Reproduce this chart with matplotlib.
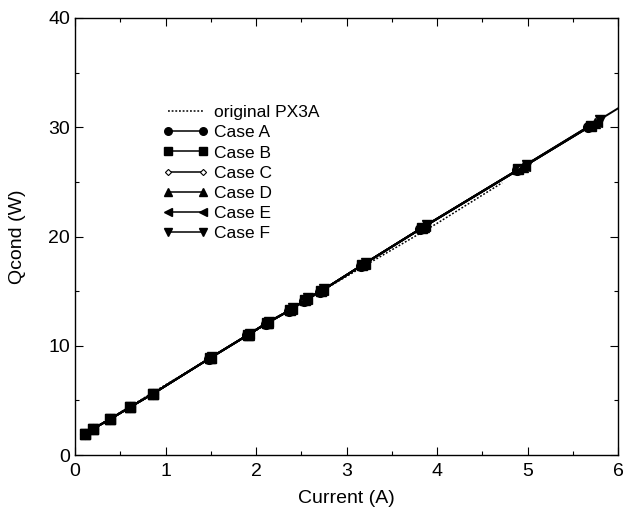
import matplotlib
matplotlib.use("Agg")
import matplotlib.pyplot as plt
from matplotlib.ticker import MultipleLocator

plt.rcParams['font.family'] = ['Liberation Sans', 'DejaVu Sans']

# Original PX3A (dotted)
orig_x = [0.10, 1.00, 2.00, 3.00, 4.00, 4.72]
orig_y = [1.90, 6.42, 11.40, 16.35, 21.20, 24.92]

# Cases (current in A, Qcond in W)
caseA_x = [0.11, 0.20, 0.39, 0.61, 0.86, 1.48, 1.90, 2.11, 2.37, 2.53, 2.71, 3.16, 3.81, 4.88, 5.67, 6.30]
caseA_y = [1.92, 2.40, 3.29, 4.39, 5.60, 8.82, 10.95, 12.03, 13.22, 14.13, 14.95, 17.32, 20.68, 26.05, 30.05, 33.25]
caseB_x = [0.11, 0.20, 0.39, 0.61, 0.86, 1.49, 1.91, 2.12, 2.38, 2.54, 2.72, 3.17, 3.83, 4.90, 5.70]
caseB_y = [1.92, 2.40, 3.29, 4.39, 5.60, 8.85, 10.98, 12.07, 13.26, 14.17, 15.00, 17.37, 20.76, 26.15, 30.15]
caseC_x = [0.11, 0.20, 0.39, 0.61, 0.86, 1.49, 1.91, 2.12, 2.38, 2.54, 2.72, 3.18, 3.84, 4.92, 5.72]
caseC_y = [1.92, 2.40, 3.29, 4.39, 5.60, 8.86, 10.99, 12.08, 13.27, 14.18, 15.01, 17.40, 20.80, 26.22, 30.22]
caseD_x = [0.11, 0.20, 0.39, 0.61, 0.86, 1.50, 1.92, 2.13, 2.39, 2.55, 2.73, 3.19, 3.86, 4.95, 5.75]
caseD_y = [1.92, 2.40, 3.29, 4.39, 5.60, 8.90, 11.02, 12.12, 13.32, 14.24, 15.06, 17.47, 20.90, 26.35, 30.38]
caseE_x = [0.11, 0.20, 0.39, 0.61, 0.86, 1.50, 1.92, 2.13, 2.40, 2.56, 2.74, 3.20, 3.87, 4.97, 5.77]
caseE_y = [1.92, 2.40, 3.29, 4.39, 5.60, 8.92, 11.05, 12.15, 13.36, 14.28, 15.10, 17.52, 20.98, 26.45, 30.50]
caseF_x = [0.11, 0.20, 0.39, 0.61, 0.86, 1.51, 1.93, 2.14, 2.41, 2.57, 2.75, 3.21, 3.89, 4.99, 5.80]
caseF_y = [1.92, 2.40, 3.29, 4.39, 5.60, 8.97, 11.10, 12.20, 13.42, 14.34, 15.16, 17.58, 21.08, 26.58, 30.70]

W, H = 625, 512
fig = plt.figure(figsize=(W / 100, H / 100), dpi=100)
ax = fig.add_axes([75 / W, 1 - 455 / H, (618 - 75) / W, (455 - 18) / H])

ax.plot(orig_x, orig_y, linestyle=(0, (1.2, 1.2)), color='black', lw=1.1, label='original PX3A')
ms = 7
ax.plot(caseA_x, caseA_y, '-', color='black', lw=1.4, marker='o', ms=ms, label='Case A')
ax.plot(caseB_x, caseB_y, '-', color='black', lw=1.4, marker='s', ms=ms, label='Case B')
ax.plot(caseC_x, caseC_y, '-', color='black', lw=1.4, marker='D', ms=4, mfc='white', mew=0.8, label='Case C')
ax.plot(caseD_x, caseD_y, '-', color='black', lw=1.4, marker='^', ms=ms, label='Case D')
ax.plot(caseE_x, caseE_y, '-', color='black', lw=1.4, marker='<', ms=ms, label='Case E')
ax.plot(caseF_x, caseF_y, '-', color='black', lw=1.4, marker='v', ms=ms, label='Case F')

ax.set_xlim(0, 6)
ax.set_ylim(0, 40)
ax.xaxis.set_major_locator(MultipleLocator(1))
ax.xaxis.set_minor_locator(MultipleLocator(0.5))
ax.yaxis.set_major_locator(MultipleLocator(10))
ax.yaxis.set_minor_locator(MultipleLocator(5))
ax.tick_params(which='both', direction='in', top=True, right=True, labelsize=14, width=0.8)
ax.tick_params(which='major', length=6)
ax.tick_params(which='minor', length=3)
ax.tick_params(axis='x', pad=6)
for s in ax.spines.values():
    s.set_linewidth(1.0)

ax.set_xlabel('Current (A)', fontsize=14, labelpad=7)
ax.set_ylabel('Qcond (W)', fontsize=14, labelpad=16)

leg = fig.legend(loc='upper left', bbox_to_anchor=(163 / W, 1 - 105 / H), bbox_transform=fig.transFigure,
                 frameon=False, fontsize=12.5, numpoints=2,
                 handlelength=2.6, handletextpad=0.35, labelspacing=0.29, markerscale=0.78,
                 borderpad=0, borderaxespad=0)
for h in leg.legend_handles:
    h.set_linewidth(1.1)

fig.savefig('out.png', dpi=100)
